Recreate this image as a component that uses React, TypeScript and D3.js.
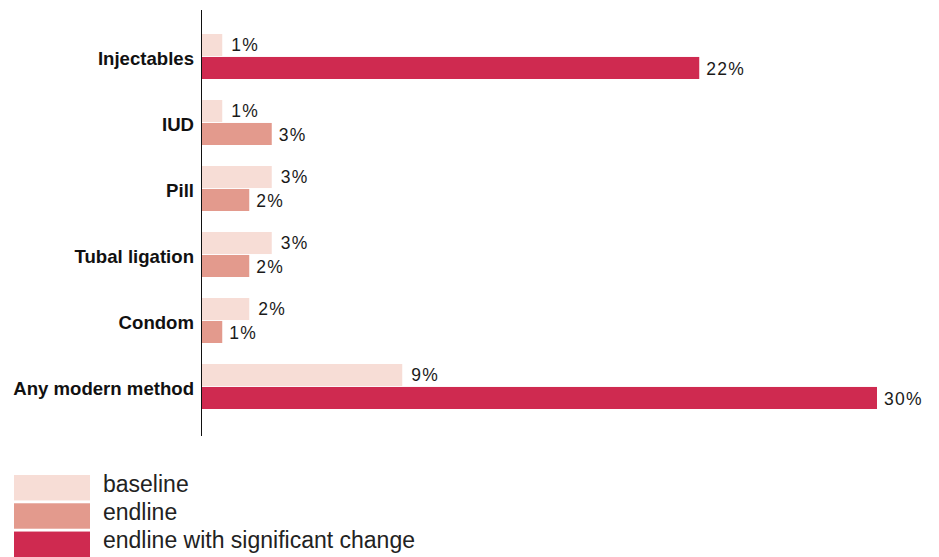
import React from "react";
import * as d3 from "d3";

const categories = ["Injectables", "IUD", "Pill", "Tubal ligation", "Condom", "Any modern method"];
const baselineValues = [0.9, 0.9, 3.1, 3.1, 2.1, 8.9];
const endlineValues = [22.1, 3.1, 2.1, 2.1, 0.9, 30];
const significant = [true, false, false, false, false, true];
const baselineLabels = ["1%", "1%", "3%", "3%", "2%", "9%"];
const endlineLabels = ["22%", "3%", "2%", "2%", "1%", "30%"];
const legendItems = ["baseline", "endline", "endline with significant change"];

const COLORS = { baseline: "#f7ddd6", endline: "#e39a8d", sig: "#cf2a50" };

export default function App() {
  const W = 939, H = 557;
  const axisX = 201.5;
  const x = d3.scaleLinear().domain([0, 30]).range([202, 877]);
  const y = d3.scaleBand<string>().domain(categories).range([34, 409]).paddingInner(21 / 66).paddingOuter(0);
  const inner = d3.scaleBand<string>().domain(["baseline", "endline"]).range([0, y.bandwidth()]).paddingInner(0.04);
  const legendY = d3.scaleBand<string>().domain(legendItems).range([475, 557]).paddingInner(0.1);
  const font = "'Liberation Sans', Arial, Helvetica, sans-serif";

  return (
    <svg width={W} height={H} style={{ position: "absolute", left: 0, top: 0 }} fontFamily={font}>
      {categories.map((c, i) => {
        const y0 = y(c)!;
        const bY = y0 + inner("baseline")!;
        const eY = y0 + inner("endline")!;
        const bh = inner.bandwidth();
        return (
          <g key={c}>
            <rect x={x(0)} y={bY} width={x(baselineValues[i]) - x(0)} height={bh} fill={COLORS.baseline} />
            <rect x={x(0)} y={eY} width={x(endlineValues[i]) - x(0)} height={bh} fill={significant[i] ? COLORS.sig : COLORS.endline} />
            <text x={x(baselineValues[i]) + 9} y={bY + bh / 2} dy="0.35em" fontSize={17.5} fill="#1a1a1a" letterSpacing={1.3}>{baselineLabels[i]}</text>
            <text x={x(endlineValues[i]) + 7} y={eY + bh / 2 + 1} dy="0.35em" fontSize={17.5} fill="#1a1a1a" letterSpacing={1.3}>{endlineLabels[i]}</text>
            <text x={194} y={y0 + y.bandwidth() / 2 + 2} dy="0.35em" textAnchor="end" fontSize={18.6} fontWeight="bold" fill="#111">{c}</text>
          </g>
        );
      })}
      <line x1={axisX} x2={axisX} y1={10} y2={436} stroke="#111" strokeWidth={1} />
      {legendItems.map((l, i) => (
        <g key={l}>
          <rect x={14} y={legendY(l)!} width={76} height={legendY.bandwidth()} fill={[COLORS.baseline, COLORS.endline, COLORS.sig][i]} />
          <text x={103} y={legendY(l)! + legendY.bandwidth() / 2 - 4} dy="0.35em" fontSize={23} fill="#222">{l}</text>
        </g>
      ))}
    </svg>
  );
}
